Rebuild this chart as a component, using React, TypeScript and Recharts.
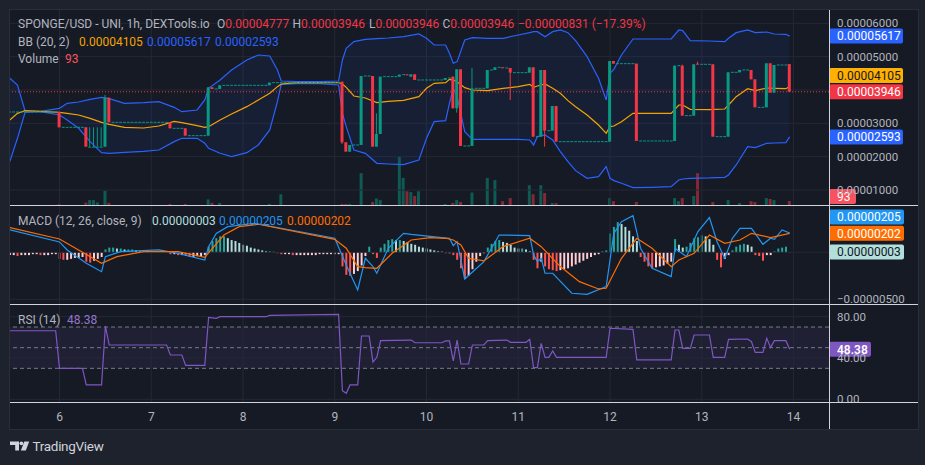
import React from 'react';
import { ComposedChart, Bar, Line, Area, XAxis, YAxis, ReferenceLine, ReferenceArea, Cell } from 'recharts';

// ---------------- data (prices in 1e-5, MACD in 1e-7) ----------------
const dayTicks = [0, 24, 48, 72, 96, 120, 144, 168, 192];
const dayLabels = ['6', '7', '8', '9', '10', '11', '12', '13', '14'];
const priceGridLevels = [1, 2, 3, 4, 5, 6];
const priceLabelLevels = [1, 2, 3, 5, 6];
const rsiGridLevels = [0, 40, 80];
const rsiDashLevels = [30, 50, 70];
const macdGridLevels = [-50, 0];

// [hour, open, high, low, close]
const candles = [
  [0, 3.34, 3.34, 2.88, 2.88], [7, 2.88, 2.88, 2.3, 2.3], [8, 2.3, 2.88, 2.3, 2.3], [9, 2.3, 2.88, 2.3, 2.3],
  [10, 2.3, 2.88, 2.3, 2.3], [11, 2.3, 2.88, 2.3, 2.3], [12, 2.3, 3.85, 2.3, 3.77], [13, 3.77, 3.77, 3.03, 3.03],
  [29, 3.03, 3.03, 2.85, 2.85], [33, 2.85, 2.85, 2.63, 2.63], [39, 2.63, 4.08, 2.63, 4.08], [40, 4.08, 4.08, 4.03, 4.03],
  [42, 4.03, 4.14, 4.03, 4.14], [55, 4.14, 4.22, 4.14, 4.22], [74, 4.25, 4.25, 2.38, 2.43], [75, 2.43, 2.43, 2.15, 2.15],
  [76, 2.15, 2.35, 2.15, 2.35], [79, 2.35, 4.42, 2.35, 4.42], [82, 4.42, 4.42, 2.3, 2.3], [83, 2.3, 3.3, 2.3, 2.68],
  [84, 2.68, 4.4, 2.68, 4.4], [89, 4.4, 4.46, 4.4, 4.46], [91, 4.47, 4.47, 4.45, 4.45], [92, 4.4, 4.47, 4.4, 4.47],
  [93, 4.47, 4.47, 4.3, 4.3], [101, 4.3, 4.36, 4.3, 4.36], [103, 4.4, 4.4, 3.45, 3.45], [104, 3.45, 4.62, 3.32, 4.62],
  [105, 4.62, 4.62, 2.32, 2.32], [108, 2.32, 4.66, 2.32, 4.05], [112, 4.05, 4.6, 4.05, 4.6], [114, 4.6, 4.68, 4.6, 4.68],
  [116, 4.68, 4.68, 4.66, 4.66], [118, 4.66, 4.66, 3.7, 4.52], [123, 4.52, 4.68, 4.52, 4.68], [124, 4.68, 4.68, 2.6, 2.6],
  [126, 2.6, 4.6, 2.6, 4.6], [127, 4.6, 4.6, 2.3, 2.78], [129, 2.78, 3.52, 2.78, 3.52], [130, 3.52, 3.52, 2.45, 2.45],
  [144, 2.45, 4.87, 2.45, 4.87], [145, 4.87, 4.87, 4.79, 4.79], [151, 4.79, 4.79, 2.47, 2.47], [161, 2.47, 4.73, 2.47, 4.73],
  [163, 4.73, 4.76, 3.23, 3.23], [166, 3.23, 4.77, 3.23, 4.77], [167, 4.79, 4.85, 4.77, 4.77], [171, 4.77, 4.77, 2.6, 2.6],
  [175, 2.6, 4.53, 2.6, 4.53], [178, 4.53, 4.6, 4.53, 4.6], [181, 4.6, 4.6, 4.32, 4.32], [182, 4.32, 4.32, 3.48, 3.48],
  [185, 3.48, 4.8, 3.48, 4.8], [186, 4.8, 4.8, 3.92, 3.92], [187, 3.92, 4.75, 3.92, 4.75], [191, 4.777, 4.777, 3.946, 3.946],
];

// flat hourly candles (open = high = low = close): [first hour, last hour, price]
const flatRuns = [
  [-13, -1, 3.34], [1, 6, 2.88], [14, 28, 3.03], [30, 32, 2.85], [34, 38, 2.63], [41, 41, 4.03], [43, 54, 4.14],
  [56, 73, 4.22], [77, 78, 2.35], [80, 81, 4.42], [85, 88, 4.4], [90, 90, 4.46], [94, 100, 4.3], [102, 102, 4.36],
  [106, 107, 2.32], [109, 111, 4.05], [113, 113, 4.6], [115, 115, 4.68], [117, 117, 4.66], [119, 122, 4.52],
  [125, 125, 2.6], [128, 128, 2.78], [131, 143, 2.45], [146, 150, 4.79], [152, 160, 2.47], [162, 162, 4.73],
  [164, 165, 3.23], [168, 170, 4.77], [172, 174, 2.6], [176, 177, 4.53], [179, 180, 4.6], [183, 184, 3.48], [188, 190, 4.75],
];

// [hour, volume]
const volumes = [
  [0, 25], [7, 55], [8, 115], [9, 115], [10, 60], [12, 330], [13, 50], [29, 25], [33, 25], [39, 130], [40, 50],
  [42, 50], [55, 25], [58, 250], [74, 25], [75, 25], [76, 25], [79, 740], [82, 70], [83, 150], [84, 115], [89, 1140],
  [90, 630], [91, 320], [92, 300], [93, 210], [94, 320], [101, 25], [103, 50], [104, 115], [105, 70], [108, 290],
  [112, 630], [114, 580], [116, 90], [118, 160], [123, 460], [124, 250], [126, 460], [127, 280], [129, 45], [130, 45],
  [144, 160], [145, 90], [151, 70], [161, 160], [162, 90], [163, 160], [166, 210], [167, 740], [171, 70], [175, 115],
  [178, 45], [181, 90], [182, 70], [185, 160], [186, 140], [187, 115], [191, 93],
];

const bbHours = [-13, -11, -9, -5, 0, 2, 5, 8, 11, 13, 17, 22, 26, 30, 32, 36, 38, 39, 42, 45, 49, 52, 55, 57, 58, 62, 68, 73, 74, 75, 77, 80, 83, 86, 90, 94, 96, 98, 101, 102, 103, 104, 106, 108, 112, 116, 120, 123, 124, 125, 127, 129, 131, 133, 135, 138, 141, 143, 144, 145, 147, 150, 155, 160, 162, 163, 165, 170, 174, 175, 177, 180, 182, 185, 187, 190, 191];
const bbUpper = [4.35, 4.15, 3.37, 3.36, 3.45, 3.6, 3.64, 3.72, 3.78, 3.74, 3.6, 3.62, 3.65, 3.48, 3.35, 3.4, 3.7, 4.05, 4.3, 4.6, 4.9, 5.05, 5.02, 4.6, 4.27, 4.25, 4.25, 4.27, 4.9, 5.25, 5.45, 5.52, 5.54, 5.56, 5.6, 5.68, 5.55, 5.35, 5.35, 5.1, 4.8, 4.85, 5.5, 5.57, 5.55, 5.55, 5.65, 5.72, 5.75, 5.75, 5.6, 5.75, 5.8, 5.72, 5.48, 5.0, 4.35, 3.7, 4.5, 4.62, 5.05, 5.53, 5.53, 5.53, 5.8, 5.78, 5.48, 5.47, 5.45, 5.55, 5.72, 5.8, 5.72, 5.74, 5.68, 5.67, 5.617];
const bbBasis = [3.1, 3.3, 3.38, 3.36, 3.33, 3.3, 3.25, 3.15, 3.03, 2.97, 2.88, 2.86, 2.92, 3.06, 3.02, 2.93, 2.88, 2.9, 3.1, 3.28, 3.5, 3.7, 3.9, 4.1, 4.18, 4.22, 4.22, 4.22, 4.18, 4.08, 3.82, 3.76, 3.62, 3.66, 3.69, 3.8, 4.05, 4.2, 4.22, 4.32, 4.3, 4.25, 4.07, 4.0, 3.98, 4.05, 4.1, 4.17, 4.08, 4.12, 4.18, 4.05, 3.9, 3.68, 3.5, 3.25, 2.95, 2.7, 2.9, 2.92, 3.05, 3.3, 3.3, 3.3, 3.55, 3.55, 3.42, 3.41, 3.43, 3.55, 3.8, 4.04, 3.98, 4.06, 4.05, 4.04, 4.105];
const bbLower = [1.85, 2.55, 3.33, 3.35, 3.25, 3.1, 2.85, 2.45, 2.12, 2.1, 2.13, 2.16, 2.2, 2.45, 2.55, 2.55, 2.4, 2.25, 2.1, 2.0, 2.12, 2.35, 2.8, 3.65, 4.17, 4.19, 4.19, 4.15, 3.3, 2.9, 2.2, 2.1, 1.8, 1.78, 1.76, 1.9, 2.55, 3.05, 3.08, 3.6, 4.05, 3.8, 2.75, 2.52, 2.52, 2.52, 2.52, 2.5, 2.35, 2.6, 2.65, 2.5, 2.15, 1.85, 1.58, 1.35, 1.4, 1.7, 1.35, 1.28, 1.2, 1.07, 1.08, 1.1, 1.3, 1.33, 1.35, 1.36, 1.38, 1.45, 1.75, 2.3, 2.27, 2.4, 2.41, 2.42, 2.593];

const HIST_START = -13;
const macdHist = [
  -3, -3, -4, -3, -3, -3, -2, -2, -3, -3, -3, -2, -2,
  -7, -8, -8, -7, -6, -6, -5, -10, -11, -9, -7, -5,
  3, 5, 5, 4, 4, 3, 3, 3, 2, 2, 2, 1, 1, 1, 1, 1, 0.5,
  -2, -2, -3, -3, -4, -5, -5, -4, -4, -3,
  6, 12, 15, 17, 17, 15, 13, 12, 10, 8, 7, 5, 4, 3, 2, 1, 1, 0.5,
  -1, -2, -2, -2, -3, -3, -3, -3, -3, -3, -3, -2, -2, -2, -2, -2, -2,
  -15, -24, -25, -23, -20, -14, -4, 6, -2, -6,
  5, 9, 13, 14, 13, 13, 12, 11, 9, 8, 6, 5, 4, 3, 2, 1, 1,
  -1, -1, -3, -8, -17, -28, -25, -18, -10, -4, -1,
  5, 9, 12, 13, 11, 10, 8, 5, 4, 4, 3,
  1,
  -8, -17, -10, -15, -18, -19, -20, -19, -18, -17, -15, -13, -11, -9, -7, -5, -3, -2, 1,
  2, 20, 27, 32, 30, 27, 23, 17, 12,
  -5, -10, -15, -17, -16, -15, -14, -12, -10,
  14, 8, 5, 6, 10, 15, 16, 18, 17, 14, 8,
  -8, -16, -7, -3,
  2, 6, 8, 9, 8, 6,
  -3, -4, -9, -3, -3,
  1, 4, 5, 6, 0.3,
];

const macdPts = [
  [-13, 24], [0, 11], [2, 2.5], [7, -11.7], [11, -20.6], [12, -4.6], [16, 0.7], [26, 2.5], [31, -1.1], [38, -8.2],
  [39, 6], [41, 20], [44, 27.3], [51, 30.9], [72, 14.9], [75, -13.5], [78, -40], [80, -6.4], [82, -15.2], [83, -22.3],
  [86, 4.3], [90, 20.2], [92, 19.1], [100, 15.6], [102, 14.9], [103, 7.1], [104, 11.3], [106, -28.4], [111, -9.9],
  [115, 18.4], [123, 17.7], [124, -2.8], [125, -9.9], [126, -6.4], [127, -22.3], [129, -22.3], [134, -43.6],
  [138, -44.7], [143, -36.5], [145, 20.2], [147, 32.6], [150, 39], [152, 4.3], [155, -17], [160, -25.9], [161, 4.3],
  [164, -4.6], [167, 22], [170, 36.9], [172, 11.3], [174, -6.4], [176, 14.9], [178, 25.5], [181, 25.5], [184, 8.5],
  [186, 14.9], [187, 13.8], [189, 23.8], [191, 20.5],
];
const signalPts = [
  [-13, 26.2], [0, 14.2], [11, -11.7], [15, -4.6], [22, 0.7], [31, 0.7], [38, -5.3], [43, 18.4], [47, 27.3], [52, 29.8],
  [72, 13.8], [75, 4.3], [78, -15.2], [80, -16.3], [83, -17], [87, -1.1], [92, 13.1], [97, 15.6], [101, 14.9], [103, 13.1],
  [105, 7.8], [107, -6.4], [111, -9.2], [116, 6], [123, 14.9], [126, 6], [131, -15.2], [136, -31.2], [141, -39],
  [143, -38.3], [147, -6.4], [151, 14.9], [155, 4.3], [160, -15.2], [162, -8.2], [166, -1.1], [170, 18.4], [174, 9.6],
  [178, 13.1], [181, 20.2], [186, 15.6], [191, 20.2],
];
const rsiPts = [
  [-13, 66.4], [-1, 66.4], [0, 30], [6, 30], [7, 13.9], [11, 13.9], [12, 71], [13, 52.6], [28, 52.6], [29, 42.9],
  [32, 42.9], [33, 32.9], [38, 32.9], [39, 79.4], [41, 78.4], [42, 80], [54, 80], [55, 81.3], [73, 82.3], [74, 8.3],
  [75, 5.8], [76, 13.9], [78, 13.9], [79, 61.3], [81, 61.3], [82, 36.1], [83, 40.7], [84, 56.8], [92, 57.4], [93, 54.8],
  [100, 54.8], [101, 56.5], [102, 56.5], [103, 37.1], [104, 57.4], [105, 34.2], [107, 34.2], [108, 52.6], [111, 52.6],
  [112, 56.8], [117, 57.4], [118, 55.2], [122, 55.2], [123, 58.1], [124, 30.6], [125, 30.6], [126, 54.2], [127, 40.7],
  [128, 40.7], [129, 46.8], [130, 40.7], [143, 40.7], [144, 68.8], [150, 67.8], [151, 38.1], [160, 38.1], [161, 67.1],
  [162, 67.1], [163, 49.4], [165, 49.4], [166, 62.3], [170, 62.3], [171, 40.7], [174, 40.7], [175, 58.1], [180, 58.4],
  [181, 55.8], [182, 45.5], [184, 45.5], [185, 59], [186, 50.3], [187, 56.8], [190, 56.8], [191, 48.38],
];

const headerTitle = 'SPONGE/USD - UNI, 1h, DEXTools.io';
const headerOHLC = ['0.00004777', '0.00003946', '0.00003946', '0.00003946'];
const headerChange = '−0.00000831 (−17.39%)';

// ---------------- style ----------------
const FONT = 'Roboto, "Noto Sans", Arial, sans-serif';
const BG_OUTER = '#1e222d';
const BG_CHART = '#161a25';
const GRID = '#242835';
const SEP = '#d1d4dc';
const TXT = '#b2b5be';
const GREEN = '#089981';
const RED = '#f23645';
const VOL_UP = 'rgba(8,153,129,0.5)';
const VOL_DN = 'rgba(242,54,69,0.5)';
const BB_BAND = '#2962ff';
const BB_BASIS = '#f5a300';
const BB_FILL = 'rgba(41,98,255,0.07)';
const MACD_C = '#2196f3';
const SIG_C = '#ff6d00';
const RSI_C = '#7e57c2';

const AXIS_W = 89;
const CW = 908;
const X_DOMAIN = [-12.95, 201.28];
const PRICE_DOMAIN = [0.549, 6.4];
const VOL_DOMAIN = [0, 4534];
const MACD_DOMAIN = [-55, 50.3];
const RSI_DOMAIN = [-2.6, 92.3];

// ---------------- derived tables ----------------
const candleRows = candles.map(([h, o, hi, lo, c]) => ({ h, o, hi, lo, c }));
const volRows = volumes.map(([h, v]) => {
  const k = candles.find((cd) => cd[0] === h);
  return { h, v, up: !k || k[4] >= k[1] };
});
const bbRows = bbHours.map((h, i) => ({ h, up: bbUpper[i], mid: bbBasis[i], lo: bbLower[i] }));
const histRows = macdHist.map((v, i) => {
  const prev = i > 0 ? macdHist[i - 1] : v;
  let color;
  if (v >= 0) color = v >= prev ? '#26a69a' : '#b2dfdb';
  else color = v < prev ? '#ff5252' : '#ffcdd2';
  return { h: HIST_START + i, v, color };
});
const lineHours = Array.from(new Set([...macdPts.map((p) => p[0]), ...signalPts.map((p) => p[0])])).sort((a, b) => a - b);
const macdLineRows = lineHours.map((h) => {
  const m = macdPts.find((p) => p[0] === h);
  const s = signalPts.find((p) => p[0] === h);
  return { h, macd: m ? m[1] : undefined, sig: s ? s[1] : undefined };
});
const rsiRows = rsiPts.map(([h, v]) => ({ h, v }));

const fmtPrice = (v: number) => (v * 1e-5).toFixed(8);
const fmtMacd = (v: number) => (v < 0 ? '−' : '') + (Math.abs(v) * 1e-7).toFixed(8);

const last = (a: any[]) => a[a.length - 1];
const lastCandle = last(candles);
const lastVol = last(volumes)[1];
const lastMacd = last(macdPts)[1];
const lastSig = last(signalPts)[1];
const lastHist = last(macdHist);
const lastHistColor = last(histRows).color;
const lastRsi = last(rsiPts)[1];

// ---------------- shapes ----------------
function CandleShape(props: any) {
  const { x, y, width, height, payload } = props;
  if (x == null || y == null || !payload) return null;
  const top = Math.min(y, y + height);
  const span = Math.abs(height);
  const { o, c, hi, lo } = payload;
  const col = c >= o ? GREEN : RED;
  const toY = (v: number) => (hi === lo ? top : top + ((hi - v) / (hi - lo)) * span);
  const bTop = toY(Math.max(o, c));
  const bBot = toY(Math.min(o, c));
  const cx = x + width / 2;
  return (
    <g>
      <line x1={cx} x2={cx} y1={top} y2={top + span} stroke={col} strokeWidth={1} />
      <rect x={x} y={bTop} width={width} height={Math.max(1, bBot - bTop)} fill={col} />
    </g>
  );
}

function AxisBadge(props: any) {
  const { viewBox, text, bg, fg, shift = 0, w = 74, maxY, bold } = props;
  if (!viewBox) return null;
  const x = viewBox.x + viewBox.width;
  let cy = viewBox.y + shift;
  if (maxY !== undefined) cy = Math.min(cy, maxY);
  return (
    <g>
      <rect x={x} y={cy - 7.5} width={w} height={15} rx={2} fill={bg} />
      <text x={x + 8} y={cy} dy="0.36em" fill={fg} fontSize={12} fontFamily={FONT} fontWeight={bold ? 600 : 400}>
        {text}
      </text>
    </g>
  );
}

const badge = (opts: any) => (p: any) => <AxisBadge viewBox={p.viewBox} {...opts} />;

const axisTick = { fill: TXT, fontSize: 11.5, fontFamily: FONT };

function Legend({ rows }: { rows: any[] }) {
  return (
    <>
      {rows.map((r, i) => (
        <div
          key={i}
          style={{
            position: 'absolute', left: r.x, top: r.y - 8, height: 16, lineHeight: '16px',
            fontFamily: FONT, fontSize: 12, whiteSpace: 'nowrap',
          }}
        >
          {r.parts.map((p: any, j: number) => (
            <span key={j} style={{ color: p[1] }}>{p[0]}</span>
          ))}
        </div>
      ))}
    </>
  );
}

const legendRows = [
  { x: 18, y: 24.3, parts: [[headerTitle, TXT]] },
  { x: 217, y: 24.3, parts: [['O', TXT], [headerOHLC[0], RED]] },
  { x: 292.5, y: 24.3, parts: [['H', TXT], [headerOHLC[1], RED]] },
  { x: 369, y: 24.3, parts: [['L', TXT], [headerOHLC[2], RED]] },
  { x: 442.5, y: 24.3, parts: [['C', TXT], [headerOHLC[3], RED]] },
  { x: 518, y: 24.3, parts: [[headerChange, RED]] },
  { x: 18, y: 41.7, parts: [['BB (20, 2)', TXT]] },
  { x: 79, y: 41.7, parts: [[fmtPrice(last(bbBasis)), BB_BASIS]] },
  { x: 147, y: 41.7, parts: [[fmtPrice(last(bbUpper)), BB_BAND]] },
  { x: 215, y: 41.7, parts: [[fmtPrice(last(bbLower)), BB_BAND]] },
  { x: 18, y: 59, parts: [['Volume', TXT]] },
  { x: 65, y: 59, parts: [[String(lastVol), '#f7525f']] },
  { x: 18, y: 220.7, parts: [['MACD (12, 26, close, 9)', TXT]] },
  { x: 152, y: 220.7, parts: [[fmtMacd(lastHist), lastHistColor]] },
  { x: 219, y: 220.7, parts: [[fmtMacd(lastMacd), MACD_C]] },
  { x: 287, y: 220.7, parts: [[fmtMacd(lastSig), SIG_C]] },
  { x: 18, y: 320, parts: [['RSI (14)', TXT]] },
  { x: 67, y: 320, parts: [[lastRsi.toFixed(2), '#9575cd']] },
];

const abs = (left: number, top: number): React.CSSProperties => ({ position: 'absolute', left, top });
const M0 = { top: 0, right: 0, bottom: 0, left: 0 };
const MR = { top: 0, right: AXIS_W, bottom: 0, left: 0 };

export default function App() {
  return (
    <div style={{ position: 'absolute', left: 0, top: 0, width: 925, height: 465, background: BG_OUTER, overflow: 'hidden' }}>
      <div style={{ ...abs(10, 10), width: CW, height: 419, background: BG_CHART }} />

      {/* main pane: grid + volume */}
      <div style={abs(10, 10)}>
        <ComposedChart width={CW} height={195} data={volRows} margin={MR}>
          <XAxis type="number" dataKey="h" domain={X_DOMAIN} allowDataOverflow hide />
          <YAxis yAxisId="p" type="number" domain={PRICE_DOMAIN} allowDataOverflow hide />
          <YAxis yAxisId="v" type="number" domain={VOL_DOMAIN} allowDataOverflow hide />
          {dayTicks.map((t) => <ReferenceLine key={'gx' + t} x={t} yAxisId="p" stroke={GRID} />)}
          {priceGridLevels.map((p) => <ReferenceLine key={'gy' + p} y={p} yAxisId="p" stroke={GRID} />)}
          <Bar dataKey="v" yAxisId="v" barSize={3} isAnimationActive={false}>
            {volRows.map((r, i) => <Cell key={i} fill={r.up ? VOL_UP : VOL_DN} />)}
          </Bar>
        </ComposedChart>
      </div>

      {/* main pane: Bollinger Bands */}
      <div style={abs(10, 10)}>
        <ComposedChart width={CW} height={195} data={bbRows} margin={MR}>
          <XAxis type="number" dataKey="h" domain={X_DOMAIN} allowDataOverflow hide />
          <YAxis yAxisId="p" type="number" domain={PRICE_DOMAIN} allowDataOverflow hide />
          <Area yAxisId="p" type="linear" dataKey={(d: any) => [d.lo, d.up]} stroke="none" fill={BB_FILL} fillOpacity={1} isAnimationActive={false} />
          <Line yAxisId="p" type="linear" dataKey="up" stroke={BB_BAND} strokeWidth={1.2} dot={false} isAnimationActive={false} />
          <Line yAxisId="p" type="linear" dataKey="lo" stroke={BB_BAND} strokeWidth={1.2} dot={false} isAnimationActive={false} />
          <Line yAxisId="p" type="linear" dataKey="mid" stroke={BB_BASIS} strokeWidth={1.2} dot={false} isAnimationActive={false} />
        </ComposedChart>
      </div>

      {/* main pane: candles, price axis, badges */}
      <div style={abs(10, 10)}>
        <ComposedChart width={CW} height={195} data={candleRows} margin={M0}>
          <XAxis type="number" dataKey="h" domain={X_DOMAIN} allowDataOverflow hide />
          <YAxis
            yAxisId="p" orientation="right" width={AXIS_W} type="number" domain={PRICE_DOMAIN} allowDataOverflow
            ticks={priceLabelLevels} interval={0} tickFormatter={fmtPrice} tickLine={false} axisLine={false} tick={axisTick}
          />
          <YAxis yAxisId="v" orientation="right" type="number" domain={VOL_DOMAIN} allowDataOverflow hide />
          {flatRuns.map(([a, b, p], i) => (
            <ReferenceLine
              key={'f' + i} yAxisId="p" ifOverflow="hidden"
              segment={[{ x: a - 0.37, y: p }, { x: b + 0.37, y: p }]}
              stroke={GREEN} strokeWidth={1} strokeDasharray="2.8 1.02"
            />
          ))}
          <Bar yAxisId="p" dataKey={(d: any) => [d.lo, d.hi]} barSize={3} isAnimationActive={false} shape={(p: any) => <CandleShape {...p} />} />
          <ReferenceLine yAxisId="p" y={lastCandle[4]} stroke={RED} strokeWidth={1} strokeDasharray="1 2" />
          <ReferenceLine yAxisId="p" y={last(bbLower)} stroke="transparent" label={badge({ text: fmtPrice(last(bbLower)), bg: BB_BAND, fg: '#ffffff' })} />
          <ReferenceLine yAxisId="p" y={last(bbBasis)} stroke="transparent" label={badge({ text: fmtPrice(last(bbBasis)), bg: '#ffb000', fg: '#131722', shift: -11 })} />
          <ReferenceLine yAxisId="p" y={lastCandle[4]} stroke="transparent" label={badge({ text: fmtPrice(lastCandle[4]), bg: RED, fg: '#ffffff' })} />
          <ReferenceLine yAxisId="p" y={last(bbUpper)} stroke="transparent" label={badge({ text: fmtPrice(last(bbUpper)), bg: BB_BAND, fg: '#ffffff' })} />
          <ReferenceLine yAxisId="v" y={lastVol} stroke="transparent" label={badge({ text: String(lastVol), bg: '#f7525f', fg: '#ffffff', w: 27, maxY: 186.5 })} />
        </ComposedChart>
      </div>

      {/* MACD pane: grid + histogram */}
      <div style={abs(10, 205)}>
        <ComposedChart width={CW} height={99} data={histRows} margin={MR}>
          <XAxis type="number" dataKey="h" domain={X_DOMAIN} allowDataOverflow hide />
          <YAxis yAxisId="m" type="number" domain={MACD_DOMAIN} allowDataOverflow hide />
          {dayTicks.map((t) => <ReferenceLine key={'mx' + t} x={t} yAxisId="m" stroke={GRID} />)}
          {macdGridLevels.map((v) => <ReferenceLine key={'my' + v} y={v} yAxisId="m" stroke={GRID} />)}
          <Bar dataKey="v" yAxisId="m" barSize={2} isAnimationActive={false}>
            {histRows.map((r, i) => <Cell key={i} fill={r.color} />)}
          </Bar>
        </ComposedChart>
      </div>

      {/* MACD pane: lines + axis */}
      <div style={abs(10, 205)}>
        <ComposedChart width={CW} height={99} data={macdLineRows} margin={M0}>
          <XAxis type="number" dataKey="h" domain={X_DOMAIN} allowDataOverflow hide />
          <YAxis
            yAxisId="m" orientation="right" width={AXIS_W} type="number" domain={MACD_DOMAIN} allowDataOverflow
            ticks={[-50]} interval={0} tickFormatter={fmtMacd} tickLine={false} axisLine={false} tick={axisTick}
          />
          <Line yAxisId="m" type="linear" dataKey="macd" stroke={MACD_C} strokeWidth={1.2} dot={false} connectNulls isAnimationActive={false} />
          <Line yAxisId="m" type="linear" dataKey="sig" stroke={SIG_C} strokeWidth={1.2} dot={false} connectNulls isAnimationActive={false} />
          <ReferenceLine yAxisId="m" y={lastHist} stroke="transparent" label={badge({ text: fmtMacd(lastHist), bg: lastHistColor, fg: '#131722', w: 75 })} />
          <ReferenceLine yAxisId="m" y={lastSig} stroke="transparent" label={badge({ text: fmtMacd(lastSig), bg: SIG_C, fg: '#ffffff', w: 75 })} />
          <ReferenceLine yAxisId="m" y={lastMacd} stroke="transparent" label={badge({ text: fmtMacd(lastMacd), bg: MACD_C, fg: '#ffffff', w: 75, shift: -16 })} />
        </ComposedChart>
      </div>

      {/* RSI pane + time axis */}
      <div style={abs(10, 304)}>
        <ComposedChart width={CW} height={125} data={rsiRows} margin={M0}>
          <XAxis
            type="number" dataKey="h" domain={X_DOMAIN} allowDataOverflow height={27} ticks={dayTicks} interval={0}
            tickFormatter={(v: number) => dayLabels[dayTicks.indexOf(v)]} tickLine={false} axisLine={false}
            tick={{ fill: TXT, fontSize: 12, fontFamily: FONT }} tickMargin={4}
          />
          <YAxis
            yAxisId="r" orientation="right" width={AXIS_W} type="number" domain={RSI_DOMAIN} allowDataOverflow
            ticks={rsiGridLevels} interval={0} tickFormatter={(v: number) => v.toFixed(2)} tickLine={false} axisLine={false} tick={axisTick}
          />
          <ReferenceArea yAxisId="r" y1={30} y2={70} fill="rgba(126,87,194,0.1)" fillOpacity={1} stroke="none" />
          {dayTicks.map((t) => <ReferenceLine key={'rx' + t} x={t} yAxisId="r" stroke={GRID} />)}
          {rsiGridLevels.map((v) => <ReferenceLine key={'ry' + v} y={v} yAxisId="r" stroke={GRID} />)}
          {rsiDashLevels.map((v) => <ReferenceLine key={'rd' + v} y={v} yAxisId="r" stroke="#787b86" strokeDasharray="4 3" />)}
          <Line yAxisId="r" type="linear" dataKey="v" stroke={RSI_C} strokeWidth={1.2} dot={false} isAnimationActive={false} />
          <ReferenceLine yAxisId="r" y={lastRsi} stroke="transparent" label={badge({ text: lastRsi.toFixed(2), bg: RSI_C, fg: '#ffffff', w: 42, bold: true })} />
        </ComposedChart>
      </div>

      {/* pane separators */}
      <svg width={925} height={465} style={{ position: 'absolute', left: 0, top: 0, pointerEvents: 'none' }}>
        <rect x={9.5} y={9.5} width={909} height={420} fill="none" stroke="#2a2e39" />
        <line x1={10} x2={918} y1={205.5} y2={205.5} stroke={SEP} />
        <line x1={10} x2={918} y1={304.5} y2={304.5} stroke={SEP} />
        <line x1={10} x2={918} y1={402.5} y2={402.5} stroke={SEP} />
        <line x1={829.5} x2={829.5} y1={10} y2={429} stroke={SEP} />
        {/* TradingView logo */}
        <path d="M10 441.5 H19 V450.5 H15.2 V445 H10 Z" fill="#d1d4dc" />
        <circle cx={21.4} cy={443.3} r={1.9} fill="#d1d4dc" />
        <path d="M24.3 441.5 H29.2 L25.8 450.5 H20.9 Z" fill="#d1d4dc" />
        <text x={32.5} y={451} fill="#d1d4dc" fontSize={13.5} fontFamily={FONT} letterSpacing={-0.3}>TradingView</text>
      </svg>

      <Legend rows={legendRows} />
    </div>
  );
}
